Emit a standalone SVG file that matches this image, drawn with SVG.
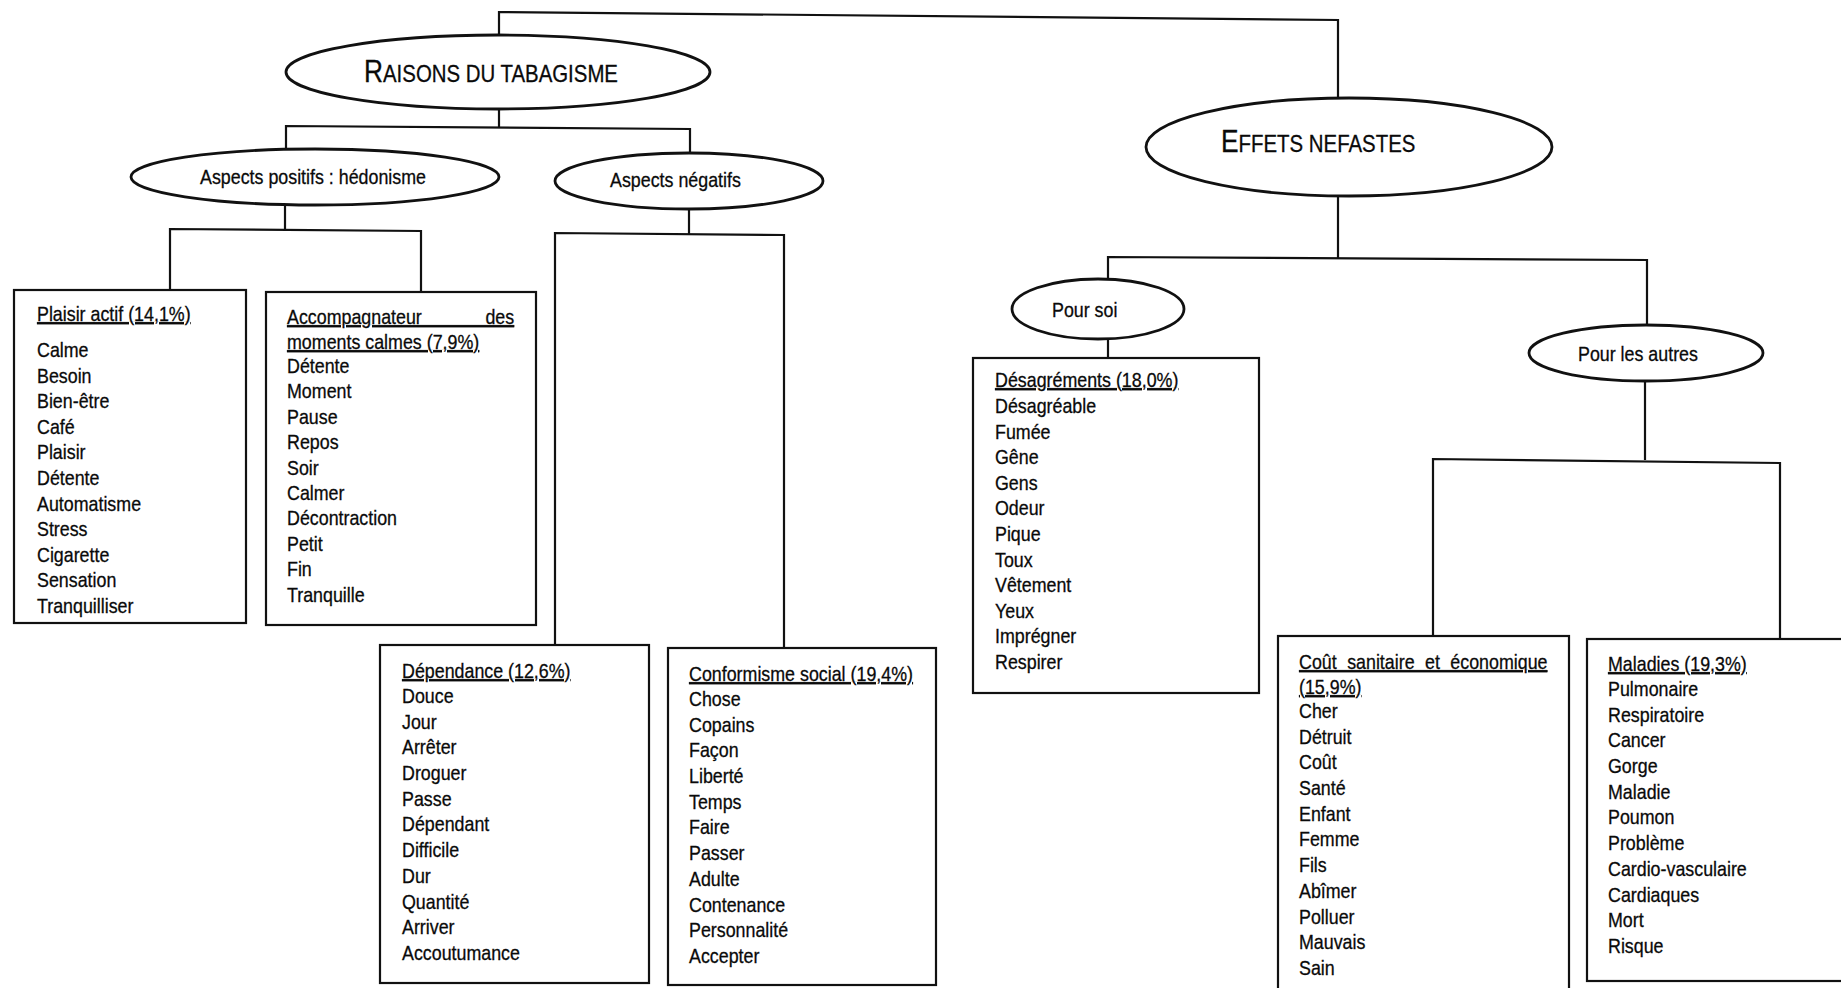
<svg xmlns="http://www.w3.org/2000/svg" width="1841" height="988" viewBox="0 0 1841 988">
<style>
.bg{fill:#ffffff}
.ln{fill:none;stroke:#111;stroke-width:2.2;stroke-linejoin:miter}
.el{fill:#ffffff;stroke:#111;stroke-width:2.8}
.bx{fill:#ffffff;stroke:#111;stroke-width:2.2}
.t{font-family:"Liberation Sans",Arial,sans-serif;font-size:21px;fill:#0a0a0a;stroke:#0a0a0a;stroke-width:0.3}
.u{text-decoration:underline}
.h{font-family:"Liberation Sans",Arial,sans-serif;fill:#0a0a0a;stroke:#0a0a0a;stroke-width:0.3}
</style>
<rect class="bg" x="0" y="0" width="1841" height="988"/>

<g id="connectors">
  <path class="ln" d="M499,35 V12 L1338,20 V99"/>
  <path class="ln" d="M499,109 V127"/>
  <path class="ln" d="M286,152 V126 L690,129 V155"/>
  <path class="ln" d="M285,205 V229"/>
  <path class="ln" d="M170,290 V229 L421,231 V293"/>
  <path class="ln" d="M689,209 V234"/>
  <path class="ln" d="M555,645 V233 L784,235 V648"/>
  <path class="ln" d="M1338,196 V258"/>
  <path class="ln" d="M1108,280 V257 L1647,260 V325"/>
  <path class="ln" d="M1108,339 V358"/>
  <path class="ln" d="M1645,381 V460"/>
  <path class="ln" d="M1433,636 V459 L1780,463 V639"/>
</g>

<g id="raisons">
  <ellipse class="el" cx="498" cy="72" rx="212" ry="37"/>
  <text class="h" transform="translate(364,82) scale(0.85,1)"><tspan font-size="31">R</tspan><tspan font-size="24">AISONS DU TABAGISME</tspan></text>
</g>

<g id="effets">
  <ellipse class="el" cx="1349" cy="147" rx="203" ry="49"/>
  <text class="h" transform="translate(1221,152) scale(0.85,1)"><tspan font-size="31">E</tspan><tspan font-size="24">FFETS NEFASTES</tspan></text>
</g>

<g id="aspects-positifs">
  <ellipse class="el" cx="315" cy="177" rx="184" ry="28"/>
  <text class="t" transform="translate(200,184) scale(0.85,1)">Aspects positifs : hédonisme</text>
</g>

<g id="aspects-negatifs">
  <ellipse class="el" cx="689" cy="181" rx="134" ry="28"/>
  <text class="t" transform="translate(610,187) scale(0.85,1)">Aspects négatifs</text>
</g>

<g id="pour-soi">
  <ellipse class="el" cx="1098" cy="309" rx="86" ry="30"/>
  <text class="t" transform="translate(1052,317) scale(0.85,1)">Pour soi</text>
</g>

<g id="pour-les-autres">
  <ellipse class="el" cx="1646" cy="353" rx="117" ry="28"/>
  <text class="t" transform="translate(1578,361) scale(0.85,1)">Pour les autres</text>
</g>

<g id="plaisir-actif">
  <rect class="bx" x="14" y="290" width="232" height="333"/>
  <text class="t" transform="translate(37,0) scale(0.85,1)">
    <tspan class="u" x="0" y="321">Plaisir actif (14,1%)</tspan>
    <tspan x="0" y="357">Calme</tspan>
    <tspan x="0" dy="25.6">Besoin</tspan>
    <tspan x="0" dy="25.6">Bien-être</tspan>
    <tspan x="0" dy="25.6">Café</tspan>
    <tspan x="0" dy="25.6">Plaisir</tspan>
    <tspan x="0" dy="25.6">Détente</tspan>
    <tspan x="0" dy="25.6">Automatisme</tspan>
    <tspan x="0" dy="25.6">Stress</tspan>
    <tspan x="0" dy="25.6">Cigarette</tspan>
    <tspan x="0" dy="25.6">Sensation</tspan>
    <tspan x="0" dy="25.6">Tranquilliser</tspan>
  </text>
</g>

<g id="accompagnateur">
  <rect class="bx" x="266" y="292" width="270" height="333"/>
  <text class="t" transform="translate(287,0) scale(0.85,1)">
    <tspan class="u" x="0" y="324" word-spacing="69">Accompagnateur des</tspan>
    <tspan class="u" x="0" y="349">moments calmes (7,9%)</tspan>
    <tspan x="0" y="373">Détente</tspan>
    <tspan x="0" dy="25.4">Moment</tspan>
    <tspan x="0" dy="25.4">Pause</tspan>
    <tspan x="0" dy="25.4">Repos</tspan>
    <tspan x="0" dy="25.4">Soir</tspan>
    <tspan x="0" dy="25.4">Calmer</tspan>
    <tspan x="0" dy="25.4">Décontraction</tspan>
    <tspan x="0" dy="25.4">Petit</tspan>
    <tspan x="0" dy="25.4">Fin</tspan>
    <tspan x="0" dy="25.4">Tranquille</tspan>
  </text>
</g>

<g id="dependance">
  <rect class="bx" x="380" y="645" width="269" height="338"/>
  <text class="t" transform="translate(402,0) scale(0.85,1)">
    <tspan class="u" x="0" y="678">Dépendance (12,6%)</tspan>
    <tspan x="0" y="703">Douce</tspan>
    <tspan x="0" dy="25.7">Jour</tspan>
    <tspan x="0" dy="25.7">Arrêter</tspan>
    <tspan x="0" dy="25.7">Droguer</tspan>
    <tspan x="0" dy="25.7">Passe</tspan>
    <tspan x="0" dy="25.7">Dépendant</tspan>
    <tspan x="0" dy="25.7">Difficile</tspan>
    <tspan x="0" dy="25.7">Dur</tspan>
    <tspan x="0" dy="25.7">Quantité</tspan>
    <tspan x="0" dy="25.7">Arriver</tspan>
    <tspan x="0" dy="25.7">Accoutumance</tspan>
  </text>
</g>

<g id="conformisme">
  <rect class="bx" x="668" y="648" width="268" height="337"/>
  <text class="t" transform="translate(689,0) scale(0.85,1)">
    <tspan class="u" x="0" y="681">Conformisme social (19,4%)</tspan>
    <tspan x="0" y="706">Chose</tspan>
    <tspan x="0" dy="25.7">Copains</tspan>
    <tspan x="0" dy="25.7">Façon</tspan>
    <tspan x="0" dy="25.7">Liberté</tspan>
    <tspan x="0" dy="25.7">Temps</tspan>
    <tspan x="0" dy="25.7">Faire</tspan>
    <tspan x="0" dy="25.7">Passer</tspan>
    <tspan x="0" dy="25.7">Adulte</tspan>
    <tspan x="0" dy="25.7">Contenance</tspan>
    <tspan x="0" dy="25.7">Personnalité</tspan>
    <tspan x="0" dy="25.7">Accepter</tspan>
  </text>
</g>

<g id="desagrements">
  <rect class="bx" x="973" y="358" width="286" height="335"/>
  <text class="t" transform="translate(995,0) scale(0.85,1)">
    <tspan class="u" x="0" y="387">Désagréments (18,0%)</tspan>
    <tspan x="0" y="413">Désagréable</tspan>
    <tspan x="0" dy="25.6">Fumée</tspan>
    <tspan x="0" dy="25.6">Gêne</tspan>
    <tspan x="0" dy="25.6">Gens</tspan>
    <tspan x="0" dy="25.6">Odeur</tspan>
    <tspan x="0" dy="25.6">Pique</tspan>
    <tspan x="0" dy="25.6">Toux</tspan>
    <tspan x="0" dy="25.6">Vêtement</tspan>
    <tspan x="0" dy="25.6">Yeux</tspan>
    <tspan x="0" dy="25.6">Imprégner</tspan>
    <tspan x="0" dy="25.6">Respirer</tspan>
  </text>
</g>

<g id="cout">
  <rect class="bx" x="1278" y="636" width="291" height="370"/>
  <text class="t" transform="translate(1299,0) scale(0.85,1)">
    <tspan class="u" x="0" y="669" word-spacing="6.5">Coût sanitaire et économique</tspan>
    <tspan class="u" x="0" y="694">(15,9%)</tspan>
    <tspan x="0" y="718">Cher</tspan>
    <tspan x="0" dy="25.7">Détruit</tspan>
    <tspan x="0" dy="25.7">Coût</tspan>
    <tspan x="0" dy="25.7">Santé</tspan>
    <tspan x="0" dy="25.7">Enfant</tspan>
    <tspan x="0" dy="25.7">Femme</tspan>
    <tspan x="0" dy="25.7">Fils</tspan>
    <tspan x="0" dy="25.7">Abîmer</tspan>
    <tspan x="0" dy="25.7">Polluer</tspan>
    <tspan x="0" dy="25.7">Mauvais</tspan>
    <tspan x="0" dy="25.7">Sain</tspan>
  </text>
</g>

<g id="maladies">
  <rect class="bx" x="1587" y="639" width="270" height="342"/>
  <text class="t" transform="translate(1608,0) scale(0.85,1)">
    <tspan class="u" x="0" y="671">Maladies (19,3%)</tspan>
    <tspan x="0" y="696">Pulmonaire</tspan>
    <tspan x="0" dy="25.7">Respiratoire</tspan>
    <tspan x="0" dy="25.7">Cancer</tspan>
    <tspan x="0" dy="25.7">Gorge</tspan>
    <tspan x="0" dy="25.7">Maladie</tspan>
    <tspan x="0" dy="25.7">Poumon</tspan>
    <tspan x="0" dy="25.7">Problème</tspan>
    <tspan x="0" dy="25.7">Cardio-vasculaire</tspan>
    <tspan x="0" dy="25.7">Cardiaques</tspan>
    <tspan x="0" dy="25.7">Mort</tspan>
    <tspan x="0" dy="25.7">Risque</tspan>
  </text>
</g>
</svg>
